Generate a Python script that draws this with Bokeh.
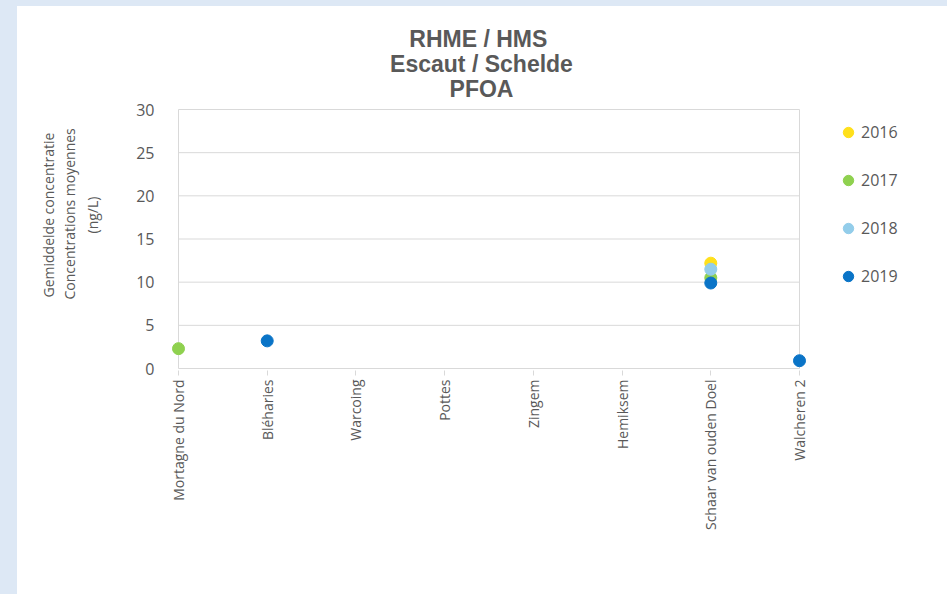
import math
from bokeh.plotting import figure
from bokeh.layouts import column
from bokeh.models import (Range1d, FixedTicker, Label, Legend, LegendItem, Title)
from bokeh.embed import file_html
from bokeh.resources import INLINE

# ---------------- data ----------------
categories = ["Mortagne du Nord", "Bléharies", "Warcoing", "Pottes", "Zingem",
              "Hemiksem", "Schaar van ouden Doel", "Walcheren 2"]
nan = float("nan")
pfoa_2016 = [nan, nan, nan, nan, nan, nan, 12.2, nan]
pfoa_2017 = [2.3, nan, nan, nan, nan, nan, 10.5, nan]
pfoa_2018 = [nan, nan, nan, nan, nan, nan, 11.5, nan]
pfoa_2019 = [nan, 3.2, nan, nan, nan, nan, 9.9, 0.9]
years = ["2016", "2017", "2018", "2019"]
year_colors = ["#FFE01B", "#8FD14F", "#93CDEA", "#0A74C7"]
y_ticks = [0, 5, 10, 15, 20, 25, 30]
title_lines = ["RHME  / HMS", "Escaut / Schelde", "PFOA"]
ytitle_lines = ["Gemiddelde concentratie", "Concentrations moyennes", "(ng/L)"]

# ---------------- layout (page pixels) ----------------
PX0, PY0 = 17, 6                          # white chart panel origin on the page
W, H = 930, 588                           # chart panel size
FL, FT, FR, FB = 165, 15, 925, 370        # frame box (page pixels)
X0_PX, X_LAST_PX = 178, 799               # first / last category position
Y0_PX, YTOP_PX = 368, 109                 # value 0 / value 30
TXT = "#595959"
GRID = "#d9d9d9"
FONT = "Open Sans"

n = len(categories)
xs = (X_LAST_PX - X0_PX) / (n - 1)
ys = (Y0_PX - YTOP_PX) / (y_ticks[-1] - y_ticks[0])
x_range = Range1d((FL - X0_PX) / xs, (FR - X0_PX) / xs)
y_range = Range1d(-(FB - Y0_PX) / ys, (Y0_PX - FT) / ys)

idx = list(range(n))
p = figure(width=W, height=H, output_backend="svg", toolbar_location=None,
           x_range=x_range, y_range=y_range,
           min_border_left=FL - PX0, min_border_right=PX0 + W - FR,
           min_border_top=FT - PY0, min_border_bottom=PY0 + H - FB)
p.styles = {"background-color": "white"}
p.background_fill_color = "white"
p.border_fill_color = "white"
p.outline_line_color = None
p.xgrid.visible = False
p.ygrid.visible = False

# gridlines and plot-area sides, spanning the categories only
p.segment(x0=[0] * len(y_ticks), x1=[n - 1] * len(y_ticks),
          y0=y_ticks, y1=y_ticks, line_color=GRID, line_width=1)
p.segment(x0=[0, n - 1], x1=[0, n - 1],
          y0=[y_ticks[0]] * 2, y1=[y_ticks[-1]] * 2, line_color=GRID, line_width=1)

# axes
p.yaxis.ticker = FixedTicker(ticks=y_ticks)
p.yaxis.axis_line_color = None
p.yaxis.major_tick_line_color = None
p.yaxis.minor_tick_line_color = None
p.yaxis.major_label_standoff = 5
p.yaxis.major_label_text_font = FONT
p.yaxis.major_label_text_font_size = "16px"
p.yaxis.major_label_text_color = TXT
p.yaxis.axis_label = " "                  # blank spacer between ticks and titles
p.yaxis.axis_label_text_font_size = "14px"
p.yaxis.axis_label_standoff = 11

p.xaxis.ticker = FixedTicker(ticks=idx)
p.xaxis.major_label_overrides = {i: c for i, c in zip(idx, categories)}
p.xaxis.major_label_orientation = math.pi / 2
p.xaxis.axis_line_color = None
p.xaxis.major_tick_line_color = GRID
p.xaxis.major_tick_in = 0
p.xaxis.major_tick_out = 5
p.xaxis.minor_tick_line_color = None
p.xaxis.major_label_standoff = 4
p.xaxis.major_label_text_font = FONT
p.xaxis.major_label_text_font_size = "14px"
p.xaxis.major_label_text_color = TXT

# y-axis title: three stacked side titles (closest to the axis first),
# each centred at about y=214 (offset measured from the frame bottom)
for line, st, off in zip(reversed(ytitle_lines), [4, 0, 0], [137, 71, 73]):
    t = Title(text=line, align="left", offset=off, standoff=st,
              text_font=FONT, text_font_size="14px",
              text_font_style="normal", text_color=TXT)
    p.add_layout(t, "left")

# points
items = []
for yr, col, vals in zip(years, year_colors, [pfoa_2016, pfoa_2017, pfoa_2018, pfoa_2019]):
    r = p.scatter(idx, vals, size=12, fill_color=col, line_color=col)
    items.append(LegendItem(label=yr, renderers=[r]))

LEG_X, LEG_TOP, GH, SP = 835, 118, 28, 20
leg_h = len(years) * GH + (len(years) - 1) * SP
legend = Legend(items=items, location=(LEG_X - FL, FB - (LEG_TOP + leg_h)),
                border_line_color=None,
                background_fill_alpha=0, glyph_width=26, glyph_height=GH,
                label_standoff=0, spacing=SP, padding=0, margin=0,
                label_text_font=FONT, label_text_font_size="16px",
                label_text_color=TXT)
p.add_layout(legend, "center")

# chart title, centred in the chart area (frame-relative screen units)
for line, ty in zip(title_lines, [38, 63, 88]):
    p.add_layout(Label(x=481 - FL, y=FB - ty, x_units="screen", y_units="screen",
                       text=line, text_align="center", text_baseline="middle",
                       text_font="Liberation Sans", text_font_size="23px",
                       text_font_style="bold", text_color=TXT))

root = column(p, styles={"background-color": "#dde8f5",
                         "padding": f"{PY0}px 0px 0px {PX0}px"})
html = file_html(root, INLINE)
open("out.html", "w").write(html)
